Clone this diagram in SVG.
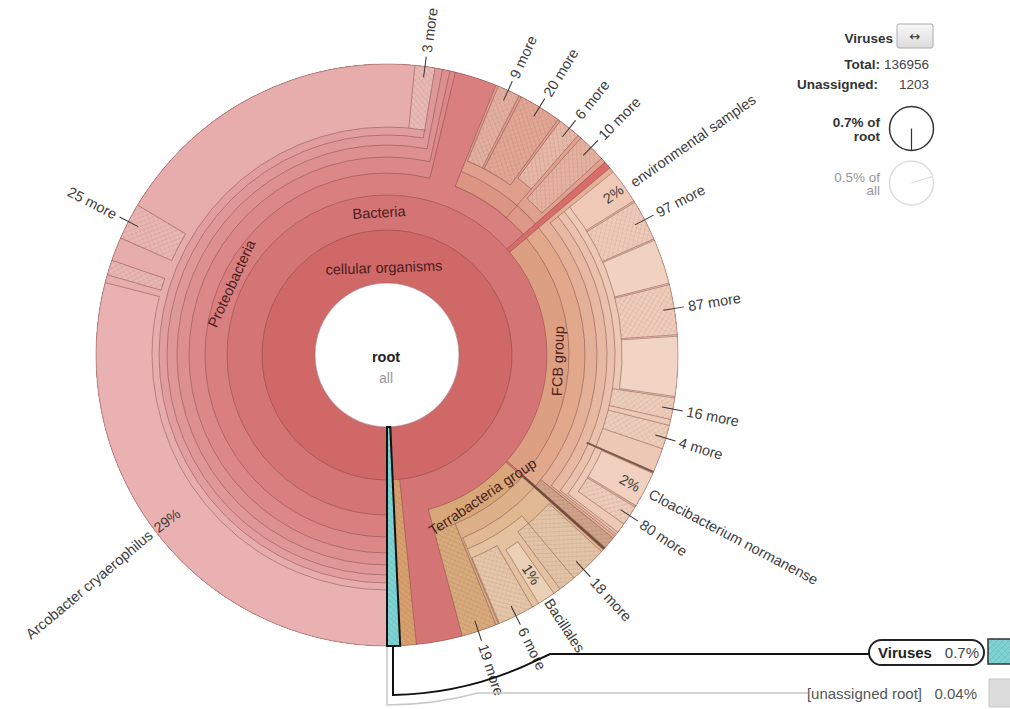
<svg xmlns="http://www.w3.org/2000/svg" xmlns:xlink="http://www.w3.org/1999/xlink" width="1010" height="709" viewBox="0 0 1010 709">
<defs>
<pattern id="hatch" width="6" height="6" patternUnits="userSpaceOnUse">
<path d="M0,6 L6,0 M-1.5,1.5 L1.5,-1.5 M4.5,7.5 L7.5,4.5" stroke="#000" stroke-opacity=".13" stroke-width=".7" fill="none"/>
<path d="M0,0 L6,6 M-1.5,4.5 L1.5,7.5 M4.5,-1.5 L7.5,1.5" stroke="#000" stroke-opacity=".07" stroke-width=".7" fill="none"/>
</pattern>
<linearGradient id="btn" x1="0" y1="0" x2="0" y2="1"><stop offset="0" stop-color="#f8f8f8"/><stop offset="1" stop-color="#dcdcdc"/></linearGradient>
<line id="q125" x1="387" y1="230" x2="387" y2="64"/>
<line id="q160" x1="387" y1="195" x2="387" y2="64"/>
<line id="q182" x1="387" y1="173" x2="387" y2="64"/>
<line id="q198" x1="387" y1="157" x2="387" y2="64"/>
<line id="q210" x1="387" y1="145" x2="387" y2="64"/>
<line id="q220" x1="387" y1="135" x2="387" y2="64"/>
<line id="q228" x1="387" y1="127" x2="387" y2="64"/>
<line id="q235" x1="387" y1="120" x2="387" y2="64"/>
</defs>
<style>
circle.s{fill:none}
.b{fill:none;stroke:#6e3a3a;stroke-opacity:.45;stroke-width:.9}
.o{font-family:"Liberation Sans",Arial,sans-serif;font-size:14.5px;fill:#3c3c3c}
.i{font-family:"Liberation Sans",Arial,sans-serif;font-size:14.5px;fill:#4a1c1c;text-anchor:middle}
.tk{stroke:#333;stroke-width:1}
.lg{font-family:"Liberation Sans",Arial,sans-serif;font-size:13.5px;text-anchor:end}
.k{font-family:"Liberation Sans",Arial,sans-serif;font-size:15px}
</style>
<rect width="1010" height="709" fill="#fff"/>

<g id="n-cellular-organisms">
<circle class="s" cx="387" cy="355" r="181.5" stroke="#d06868" stroke-width="219" stroke-dasharray="1132.16 3000" transform="rotate(90 387 355)"/>
</g>
<g id="n-bacteria">
<circle class="s" cx="387" cy="355" r="208" stroke="#d57474" stroke-width="166" stroke-dasharray="1285.85 3000" transform="rotate(90 387 355)"/>
</g>
<g id="n-archaea">
<circle class="s" cx="387" cy="355" r="208" stroke="#d9a06e" stroke-width="166" stroke-dasharray="11.62 3000" transform="rotate(84.2 387 355)"/>
<circle class="s" cx="387" cy="355" r="208" stroke="url(#hatch)" stroke-width="166" stroke-dasharray="11.62 3000" transform="rotate(84.2 387 355)"/>
</g>
<g id="n-proteobacteria">
<circle class="s" cx="387" cy="355" r="225.5" stroke="#d97f7f" stroke-width="131" stroke-dasharray="899.31 3000" transform="rotate(90 387 355)"/>
<circle class="s" cx="387" cy="355" r="236.5" stroke="#dc8888" stroke-width="109" stroke-dasharray="799.12 3000" transform="rotate(90 387 355)"/>
<circle class="s" cx="387" cy="355" r="244.5" stroke="#de9090" stroke-width="93" stroke-dasharray="821.46 3000" transform="rotate(90 387 355)"/>
<circle class="s" cx="387" cy="355" r="250.5" stroke="#e09797" stroke-width="81" stroke-dasharray="835.06 3000" transform="rotate(90 387 355)"/>
<circle class="s" cx="387" cy="355" r="255.5" stroke="#e29e9e" stroke-width="71" stroke-dasharray="845.04 3000" transform="rotate(90 387 355)"/>
<circle class="s" cx="387" cy="355" r="259.5" stroke="#e7adad" stroke-width="63" stroke-dasharray="840.15 3000" transform="rotate(90 387 355)"/>
<circle class="s" cx="387" cy="355" r="259.5" stroke="#e9b9b4" stroke-width="63" stroke-dasharray="18.12 3000" transform="rotate(275.5 387 355)"/>
<circle class="s" cx="387" cy="355" r="259.5" stroke="url(#hatch)" stroke-width="63" stroke-dasharray="18.12 3000" transform="rotate(275.5 387 355)"/>
<circle class="s" cx="387" cy="355" r="263" stroke="#e9b1b1" stroke-width="56" stroke-dasharray="479.22 3000" transform="rotate(90 387 355)"/>
<circle class="s" cx="387" cy="355" r="263" stroke="#eab6b2" stroke-width="56" stroke-dasharray="13.77 3000" transform="rotate(196 387 355)"/>
<circle class="s" cx="387" cy="355" r="263" stroke="url(#hatch)" stroke-width="56" stroke-dasharray="13.77 3000" transform="rotate(196 387 355)"/>
<circle class="s" cx="387" cy="355" r="263" stroke="#eab6b2" stroke-width="56" stroke-dasharray="33.51 3000" transform="rotate(203.7 387 355)"/>
<circle class="s" cx="387" cy="355" r="263" stroke="url(#hatch)" stroke-width="56" stroke-dasharray="33.51 3000" transform="rotate(203.7 387 355)"/>
</g>
<g id="n-gamma-beta">
<circle class="s" cx="387" cy="355" r="236.5" stroke="#dd9583" stroke-width="109" stroke-dasharray="78.43 3000" transform="rotate(-68 387 355)"/>
<circle class="s" cx="387" cy="355" r="236.5" stroke="#de9986" stroke-width="109" stroke-dasharray="30.96 3000" transform="rotate(-49 387 355)"/>
<circle class="s" cx="387" cy="355" r="244.5" stroke="#e09e8d" stroke-width="93" stroke-dasharray="81.08 3000" transform="rotate(-68 387 355)"/>
<circle class="s" cx="387" cy="355" r="244.5" stroke="#e1a18f" stroke-width="93" stroke-dasharray="32 3000" transform="rotate(-49 387 355)"/>
<circle class="s" cx="387" cy="355" r="250.5" stroke="#e4ae9f" stroke-width="81" stroke-dasharray="19.67 3000" transform="rotate(-67.5 387 355)"/>
<circle class="s" cx="387" cy="355" r="250.5" stroke="url(#hatch)" stroke-width="81" stroke-dasharray="19.67 3000" transform="rotate(-67.5 387 355)"/>
<circle class="s" cx="387" cy="355" r="250.5" stroke="#e2a694" stroke-width="81" stroke-dasharray="37.16 3000" transform="rotate(-62.5 387 355)"/>
<circle class="s" cx="387" cy="355" r="250.5" stroke="url(#hatch)" stroke-width="81" stroke-dasharray="37.16 3000" transform="rotate(-62.5 387 355)"/>
<circle class="s" cx="387" cy="355" r="250.5" stroke="#e6b1a0" stroke-width="81" stroke-dasharray="24.92 3000" transform="rotate(-48.2 387 355)"/>
<circle class="s" cx="387" cy="355" r="250.5" stroke="url(#hatch)" stroke-width="81" stroke-dasharray="24.92 3000" transform="rotate(-48.2 387 355)"/>
<circle class="s" cx="387" cy="355" r="255.5" stroke="#e7b8a8" stroke-width="71" stroke-dasharray="20.07 3000" transform="rotate(-53.5 387 355)"/>
<circle class="s" cx="387" cy="355" r="255.5" stroke="url(#hatch)" stroke-width="71" stroke-dasharray="20.07 3000" transform="rotate(-53.5 387 355)"/>
</g>
<g id="n-environmental-samples">
<circle class="s" cx="387" cy="355" r="225.5" stroke="#d76c68" stroke-width="131" stroke-dasharray="5.9 3000" transform="rotate(318.5 387 355)"/>
</g>
<g id="n-fcb-group">
<circle class="s" cx="387" cy="355" r="225.5" stroke="#dd9f82" stroke-width="131" stroke-dasharray="320.37 3000" transform="rotate(-40 387 355)"/>
<circle class="s" cx="387" cy="355" r="236.5" stroke="#e1a88c" stroke-width="109" stroke-dasharray="336 3000" transform="rotate(-40 387 355)"/>
<circle class="s" cx="387" cy="355" r="244.5" stroke="#e4b097" stroke-width="93" stroke-dasharray="337.12 3000" transform="rotate(-40 387 355)"/>
<circle class="s" cx="387" cy="355" r="244.5" stroke="#cfa389" stroke-width="93" stroke-dasharray="10.24 3000" transform="rotate(39 387 355)"/>
<circle class="s" cx="387" cy="355" r="244.5" stroke="url(#hatch)" stroke-width="93" stroke-dasharray="10.24 3000" transform="rotate(39 387 355)"/>
<circle class="s" cx="387" cy="355" r="250.5" stroke="#e7b9a2" stroke-width="81" stroke-dasharray="338.83 3000" transform="rotate(-39 387 355)"/>
<circle class="s" cx="387" cy="355" r="255.5" stroke="#eac1ac" stroke-width="71" stroke-dasharray="343.37 3000" transform="rotate(-39 387 355)"/>
<circle class="s" cx="387" cy="355" r="259.5" stroke="#edc8b5" stroke-width="63" stroke-dasharray="346.48 3000" transform="rotate(-39 387 355)"/>
<circle class="s" cx="387" cy="355" r="259.5" stroke="#efcdbb" stroke-width="63" stroke-dasharray="19.48 3000" transform="rotate(8.5 387 355)"/>
<circle class="s" cx="387" cy="355" r="259.5" stroke="url(#hatch)" stroke-width="63" stroke-dasharray="19.48 3000" transform="rotate(8.5 387 355)"/>
<circle class="s" cx="387" cy="355" r="259.5" stroke="#efcdbb" stroke-width="63" stroke-dasharray="21.74 3000" transform="rotate(14 387 355)"/>
<circle class="s" cx="387" cy="355" r="259.5" stroke="url(#hatch)" stroke-width="63" stroke-dasharray="21.74 3000" transform="rotate(14 387 355)"/>
<circle class="s" cx="387" cy="355" r="263" stroke="#efc9b6" stroke-width="56" stroke-dasharray="32.13 3000" transform="rotate(-39 387 355)"/>
<circle class="s" cx="387" cy="355" r="263" stroke="#efcab8" stroke-width="56" stroke-dasharray="37.64 3000" transform="rotate(-31.7 387 355)"/>
<circle class="s" cx="387" cy="355" r="263" stroke="url(#hatch)" stroke-width="56" stroke-dasharray="37.64 3000" transform="rotate(-31.7 387 355)"/>
<circle class="s" cx="387" cy="355" r="263" stroke="#f1d1c0" stroke-width="56" stroke-dasharray="40.85 3000" transform="rotate(-23.2 387 355)"/>
<circle class="s" cx="387" cy="355" r="263" stroke="#f0ccba" stroke-width="56" stroke-dasharray="45.9 3000" transform="rotate(-14 387 355)"/>
<circle class="s" cx="387" cy="355" r="263" stroke="url(#hatch)" stroke-width="56" stroke-dasharray="45.9 3000" transform="rotate(-14 387 355)"/>
<circle class="s" cx="387" cy="355" r="263" stroke="#f2d4c4" stroke-width="56" stroke-dasharray="54.62 3000" transform="rotate(-3.7 387 355)"/>
<circle class="s" cx="387" cy="355" r="263" stroke="#f1d0bf" stroke-width="56" stroke-dasharray="33.05 3000" transform="rotate(24 387 355)"/>
<circle class="s" cx="387" cy="355" r="263" stroke="#efcbb9" stroke-width="56" stroke-dasharray="18.36 3000" transform="rotate(31.5 387 355)"/>
<circle class="s" cx="387" cy="355" r="263" stroke="url(#hatch)" stroke-width="56" stroke-dasharray="18.36 3000" transform="rotate(31.5 387 355)"/>
</g>
<g id="n-terrabacteria-group">
<circle class="s" cx="387" cy="355" r="225.5" stroke="#d8a777" stroke-width="131" stroke-dasharray="129.88 3000" transform="rotate(42 387 355)"/>
<circle class="s" cx="387" cy="355" r="236.5" stroke="#dcb088" stroke-width="109" stroke-dasharray="107.32 3000" transform="rotate(42 387 355)"/>
<circle class="s" cx="387" cy="355" r="236.5" stroke="#d9aa7c" stroke-width="109" stroke-dasharray="28.89 3000" transform="rotate(68 387 355)"/>
<circle class="s" cx="387" cy="355" r="236.5" stroke="url(#hatch)" stroke-width="109" stroke-dasharray="28.89 3000" transform="rotate(68 387 355)"/>
<circle class="s" cx="387" cy="355" r="244.5" stroke="#e0b993" stroke-width="93" stroke-dasharray="108.82 3000" transform="rotate(42 387 355)"/>
<circle class="s" cx="387" cy="355" r="250.5" stroke="#e4c29f" stroke-width="81" stroke-dasharray="76.51 3000" transform="rotate(50 387 355)"/>
<circle class="s" cx="387" cy="355" r="255.5" stroke="#e4c4a6" stroke-width="71" stroke-dasharray="49.05 3000" transform="rotate(42.5 387 355)"/>
<circle class="s" cx="387" cy="355" r="255.5" stroke="url(#hatch)" stroke-width="71" stroke-dasharray="49.05 3000" transform="rotate(42.5 387 355)"/>
<circle class="s" cx="387" cy="355" r="255.5" stroke="#e6c6a8" stroke-width="71" stroke-dasharray="32.55 3000" transform="rotate(60 387 355)"/>
<circle class="s" cx="387" cy="355" r="255.5" stroke="url(#hatch)" stroke-width="71" stroke-dasharray="32.55 3000" transform="rotate(60 387 355)"/>
<circle class="s" cx="387" cy="355" r="259.5" stroke="#ead0b5" stroke-width="63" stroke-dasharray="16.3 3000" transform="rotate(55 387 355)"/>
</g>

<g id="borders" class="b">
<circle cx="387" cy="355" r="125"/>
<circle cx="387" cy="355" r="291"/>
<circle cx="387" cy="355" r="160" stroke-dasharray="963.42 3000" transform="rotate(90 387 355)"/>
<circle cx="387" cy="355" r="182" stroke-dasharray="614.97 3000" transform="rotate(90 387 355)"/>
<circle cx="387" cy="355" r="182" stroke-dasharray="84.18 3000" transform="rotate(-68 387 355)"/>
<circle cx="387" cy="355" r="182" stroke-dasharray="365.3 3000" transform="rotate(-40 387 355)"/>
<circle cx="387" cy="355" r="198" stroke-dasharray="665.23 3000" transform="rotate(90 387 355)"/>
<circle cx="387" cy="355" r="198" stroke-dasharray="91.58 3000" transform="rotate(-68 387 355)"/>
<circle cx="387" cy="355" r="198" stroke-dasharray="281.3 3000" transform="rotate(-40 387 355)"/>
<circle cx="387" cy="355" r="198" stroke-dasharray="88.12 3000" transform="rotate(42 387 355)"/>
<circle cx="387" cy="355" r="210" stroke-dasharray="700.05 3000" transform="rotate(90 387 355)"/>
<circle cx="387" cy="355" r="210" stroke-dasharray="49.48 3000" transform="rotate(-67.5 387 355)"/>
<circle cx="387" cy="355" r="210" stroke-dasharray="20.89 3000" transform="rotate(-48.2 387 355)"/>
<circle cx="387" cy="355" r="210" stroke-dasharray="284.05 3000" transform="rotate(-39 387 355)"/>
<circle cx="387" cy="355" r="210" stroke-dasharray="64.14 3000" transform="rotate(50 387 355)"/>
<circle cx="387" cy="355" r="220" stroke-dasharray="727.63 3000" transform="rotate(90 387 355)"/>
<circle cx="387" cy="355" r="220" stroke-dasharray="17.28 3000" transform="rotate(-53.5 387 355)"/>
<circle cx="387" cy="355" r="220" stroke-dasharray="295.66 3000" transform="rotate(-39 387 355)"/>
<circle cx="387" cy="355" r="220" stroke-dasharray="42.24 3000" transform="rotate(42.5 387 355)"/>
<circle cx="387" cy="355" r="220" stroke-dasharray="28.03 3000" transform="rotate(60 387 355)"/>
<circle cx="387" cy="355" r="228" stroke-dasharray="754.09 3000" transform="rotate(90 387 355)"/>
<circle cx="387" cy="355" r="228" stroke-dasharray="304.42 3000" transform="rotate(-39 387 355)"/>
<circle cx="387" cy="355" r="228" stroke-dasharray="14.33 3000" transform="rotate(55 387 355)"/>
<circle cx="387" cy="355" r="235" stroke-dasharray="428.2 3000" transform="rotate(90 387 355)"/>
<circle cx="387" cy="355" r="235" stroke-dasharray="12.3 3000" transform="rotate(196 387 355)"/>
<circle cx="387" cy="355" r="235" stroke-dasharray="29.94 3000" transform="rotate(203.7 387 355)"/>
<circle cx="387" cy="355" r="235" stroke-dasharray="193.59 3000" transform="rotate(-39 387 355)"/>
<circle cx="387" cy="355" r="235" stroke-dasharray="47.17 3000" transform="rotate(24 387 355)"/>
<use xlink:href="#q125" transform="rotate(174.2 387 355)"/>
<use xlink:href="#q160" transform="rotate(48.5 387 355)"/>
<use xlink:href="#q160" transform="rotate(50 387 355)"/>
<use xlink:href="#q160" transform="rotate(131.4 387 355)"/>
<use xlink:href="#q160" transform="rotate(132 387 355)"/>
<use xlink:href="#q160" transform="rotate(165 387 355)"/>
<use xlink:href="#q182" transform="rotate(13.6 387 355)"/>
<use xlink:href="#q182" transform="rotate(22 387 355)"/>
<use xlink:href="#q182" transform="rotate(41 387 355)"/>
<use xlink:href="#q182" transform="rotate(158 387 355)"/>
<use xlink:href="#q198" transform="rotate(12.5 387 355)"/>
<use xlink:href="#q198" transform="rotate(129 387 355)"/>
<use xlink:href="#q198" transform="rotate(157.5 387 355)"/>
<use xlink:href="#q210" transform="rotate(11 387 355)"/>
<use xlink:href="#q210" transform="rotate(22.5 387 355)"/>
<use xlink:href="#q210" transform="rotate(27 387 355)"/>
<use xlink:href="#q210" transform="rotate(27.5 387 355)"/>
<use xlink:href="#q210" transform="rotate(36 387 355)"/>
<use xlink:href="#q210" transform="rotate(41.8 387 355)"/>
<use xlink:href="#q210" transform="rotate(47.5 387 355)"/>
<use xlink:href="#q210" transform="rotate(51 387 355)"/>
<use xlink:href="#q210" transform="rotate(128.5 387 355)"/>
<use xlink:href="#q210" transform="rotate(140 387 355)"/>
<use xlink:href="#q220" transform="rotate(9.5 387 355)"/>
<use xlink:href="#q220" transform="rotate(36.5 387 355)"/>
<use xlink:href="#q220" transform="rotate(128 387 355)"/>
<use xlink:href="#q220" transform="rotate(132.5 387 355)"/>
<use xlink:href="#q220" transform="rotate(143.5 387 355)"/>
<use xlink:href="#q220" transform="rotate(150 387 355)"/>
<use xlink:href="#q220" transform="rotate(157.3 387 355)"/>
<use xlink:href="#q228" transform="rotate(5.5 387 355)"/>
<use xlink:href="#q228" transform="rotate(127.5 387 355)"/>
<use xlink:href="#q228" transform="rotate(98.5 387 355)"/>
<use xlink:href="#q228" transform="rotate(102.8 387 355)"/>
<use xlink:href="#q228" transform="rotate(104 387 355)"/>
<use xlink:href="#q228" transform="rotate(108.8 387 355)"/>
<use xlink:href="#q228" transform="rotate(145 387 355)"/>
<use xlink:href="#q228" transform="rotate(148.6 387 355)"/>
<use xlink:href="#q235" transform="rotate(284.4 387 355)"/>
<use xlink:href="#q235" transform="rotate(286 387 355)"/>
<use xlink:href="#q235" transform="rotate(289 387 355)"/>
<use xlink:href="#q235" transform="rotate(293.7 387 355)"/>
<use xlink:href="#q235" transform="rotate(301 387 355)"/>
<use xlink:href="#q235" transform="rotate(58 387 355)"/>
<use xlink:href="#q235" transform="rotate(58.3 387 355)"/>
<use xlink:href="#q235" transform="rotate(66.5 387 355)"/>
<use xlink:href="#q235" transform="rotate(66.8 387 355)"/>
<use xlink:href="#q235" transform="rotate(75.7 387 355)"/>
<use xlink:href="#q235" transform="rotate(76 387 355)"/>
<use xlink:href="#q235" transform="rotate(86 387 355)"/>
<use xlink:href="#q235" transform="rotate(86.3 387 355)"/>
<use xlink:href="#q235" transform="rotate(98.2 387 355)"/>
<use xlink:href="#q235" transform="rotate(114 387 355)"/>
<use xlink:href="#q235" transform="rotate(121.2 387 355)"/>
<use xlink:href="#q235" transform="rotate(121.5 387 355)"/>
<use xlink:href="#q235" transform="rotate(125.5 387 355)"/>
</g>
<line x1="387" y1="137" x2="387" y2="64" stroke="#7d5b4b" stroke-width="2" transform="rotate(113.7 387 355)"/>
<line x1="387" y1="173" x2="387" y2="64" stroke="#6f4c3c" stroke-width="2.2" transform="rotate(131.7 387 355)"/>

<g id="n-root">
<circle cx="387" cy="355" r="72" fill="#fff" stroke="#8a5050" stroke-opacity=".6" stroke-width=".9"/>
<text x="386" y="362" font-family="Liberation Sans, Arial, sans-serif" font-size="14.5" font-weight="bold" fill="#222" text-anchor="middle">root</text>
<text x="386" y="383" font-family="Liberation Sans, Arial, sans-serif" font-size="14" fill="#9a9a9a" text-anchor="middle">all</text>
</g>

<g id="n-viruses">
<circle class="s" cx="387" cy="355" r="181.5" stroke="#7fd3d3" stroke-width="219" stroke-dasharray="8.24 3000" transform="rotate(87.4 387 355)"/>
<circle class="s" cx="387" cy="355" r="181.5" stroke="url(#hatch)" stroke-width="219" stroke-dasharray="8.24 3000" transform="rotate(87.4 387 355)"/>
<path d="M387,427 L387,646 A291,291 0 0 0 400.2,645.7 L390.27,426.93 A72,72 0 0 1 387,427 Z" fill="none" stroke="#111" stroke-width="2"/>
</g>

<g id="inner-labels">
<text class="i" x="387" y="267.5" dy=".35em" transform="rotate(-2 387 355)">cellular organisms</text>
<text class="i" x="387" y="212.3" dy=".35em" transform="rotate(-3.2 387 355)">Bacteria</text>
<text class="i" x="387" y="184" dy=".35em" transform="rotate(-65.3 387 355)">Proteobacteria</text>
<text class="i" x="387" y="526" dy=".35em" transform="rotate(-88 387 355)">FCB group</text>
<text class="i" x="387" y="526" dy=".35em" transform="rotate(-34 387 355)">Terrabacteria group</text>
</g>

<g id="outer-labels">
<line class="tk" x1="667" y1="355" x2="688" y2="355" transform="rotate(-82.5 387 355)"/>
<text class="o" x="692" y="355" dy=".35em" transform="rotate(-82.5 387 355)">3 more</text>
<line class="tk" x1="667" y1="355" x2="688" y2="355" transform="rotate(-65.4 387 355)"/>
<text class="o" x="692" y="355" dy=".35em" transform="rotate(-65.4 387 355)">9 more</text>
<line class="tk" x1="667" y1="355" x2="688" y2="355" transform="rotate(-58.4 387 355)"/>
<text class="o" x="692" y="355" dy=".35em" transform="rotate(-58.4 387 355)">20 more</text>
<line class="tk" x1="667" y1="355" x2="688" y2="355" transform="rotate(-51.2 387 355)"/>
<text class="o" x="692" y="355" dy=".35em" transform="rotate(-51.2 387 355)">6 more</text>
<line class="tk" x1="667" y1="355" x2="688" y2="355" transform="rotate(-45.5 387 355)"/>
<text class="o" x="692" y="355" dy=".35em" transform="rotate(-45.5 387 355)">10 more</text>
<text class="o" x="686" y="355" dy=".35em" transform="rotate(-35 387 355)">environmental samples</text>
<text class="o" x="675" y="355" dy=".35em" text-anchor="end" transform="rotate(-35.4 387 355)">2%</text>
<line class="tk" x1="667" y1="355" x2="688" y2="355" transform="rotate(-27.7 387 355)"/>
<text class="o" x="692" y="355" dy=".35em" transform="rotate(-27.7 387 355)">97 more</text>
<line class="tk" x1="667" y1="355" x2="688" y2="355" transform="rotate(-9.2 387 355)"/>
<text class="o" x="692" y="355" dy=".35em" transform="rotate(-9.2 387 355)">87 more</text>
<line class="tk" x1="667" y1="355" x2="688" y2="355" transform="rotate(10.7 387 355)"/>
<text class="o" x="692" y="355" dy=".35em" transform="rotate(10.7 387 355)">16 more</text>
<line class="tk" x1="667" y1="355" x2="688" y2="355" transform="rotate(16.6 387 355)"/>
<text class="o" x="692" y="355" dy=".35em" transform="rotate(16.6 387 355)">4 more</text>
<text class="o" x="672" y="355" dy=".35em" text-anchor="end" transform="rotate(27.8 387 355)">2%</text>
<text class="o" x="684" y="355" dy=".35em" transform="rotate(27.7 387 355)">Cloacibacterium normanense</text>
<line class="tk" x1="667" y1="355" x2="688" y2="355" transform="rotate(33.5 387 355)"/>
<text class="o" x="692" y="355" dy=".35em" transform="rotate(33.5 387 355)">80 more</text>
<line class="tk" x1="667" y1="355" x2="688" y2="355" transform="rotate(47.5 387 355)"/>
<text class="o" x="692" y="355" dy=".35em" transform="rotate(47.5 387 355)">18 more</text>
<text class="o" x="660" y="355" dy=".35em" text-anchor="end" transform="rotate(56.7 387 355)">1%</text>
<text class="o" x="680" y="355" dy=".35em" transform="rotate(56.7 387 355)">Bacillales</text>
<line class="tk" x1="667" y1="355" x2="688" y2="355" transform="rotate(63.7 387 355)"/>
<text class="o" x="692" y="355" dy=".35em" transform="rotate(63.7 387 355)">6 more</text>
<line class="tk" x1="667" y1="355" x2="688" y2="355" transform="rotate(71.7 387 355)"/>
<text class="o" x="692" y="355" dy=".35em" transform="rotate(71.7 387 355)">19 more</text>
<line class="tk" x1="86" y1="355" x2="107" y2="355" transform="rotate(27.3 387 355)"/>
<text class="o" x="82" y="355" dy=".35em" text-anchor="end" transform="rotate(27.3 387 355)">25 more</text>
<text class="o" x="0" y="0" dy=".35em" text-anchor="end" font-size="16" transform="translate(150.6 533.1) rotate(-40)">Arcobacter cryaerophilus</text>
<text class="o" x="97" y="355" dy=".35em" transform="rotate(-37 387 355)">29%</text>
</g>

<g id="connectors" fill="none">
<path d="M387,647 L387,705 A350,350 0 0 0 478,693 L808,693" stroke="#c8c8c8" stroke-width="1.5"/>
<path d="M393,647 L393,695 A340,340 0 0 0 536,660.6 L550,654 L870,654" stroke="#111" stroke-width="2"/>
</g>

<g id="key-viruses">
<rect x="869" y="640" width="115" height="25" rx="12.5" fill="#fff" stroke="#222" stroke-width="2"/>
<text class="k" x="878" y="657.5" font-weight="bold" fill="#222">Viruses</text>
<text class="k" x="979" y="657.5" text-anchor="end" fill="#444">0.7%</text>
<rect x="988" y="639" width="30" height="25" fill="#7fd3d3" stroke="#333" stroke-width="1.5"/>
<rect x="988" y="639" width="30" height="25" fill="url(#hatch)"/>
</g>
<g id="key-unassigned">
<text class="k" x="922" y="699" text-anchor="end" fill="#555">[unassigned root]</text>
<text class="k" x="977" y="699" text-anchor="end" fill="#555">0.04%</text>
<rect x="989" y="679" width="30" height="28" fill="#dcdcdc" stroke="#c8c8c8"/>
</g>

<g id="legend">
<text class="lg" x="893" y="43" font-weight="bold" fill="#333">Viruses</text>
<rect x="897" y="24" width="36" height="24" rx="2" fill="url(#btn)" stroke="#aaa"/>
<text x="915" y="41" font-family="DejaVu Sans, sans-serif" font-size="13" fill="#333" text-anchor="middle">↔</text>
<text class="lg" x="880" y="69" font-weight="bold" fill="#333">Total:</text>
<text class="lg" x="929" y="69" fill="#444">136956</text>
<text class="lg" x="878" y="89" font-weight="bold" fill="#333">Unassigned:</text>
<text class="lg" x="929" y="89" fill="#444">1203</text>
<text class="lg" x="880" y="127" font-weight="bold" fill="#333">0.7% of</text>
<text class="lg" x="880" y="141" font-weight="bold" fill="#333">root</text>
<circle cx="911.5" cy="128.5" r="22" fill="#fff" stroke="#333" stroke-width="1.5"/>
<line x1="911.5" y1="128.5" x2="911.5" y2="150.5" stroke="#333" stroke-width="1.2"/>
<text class="lg" x="880" y="182" fill="#999">0.5% of</text>
<text class="lg" x="880" y="195" fill="#999">all</text>
<circle cx="911.5" cy="183" r="22" fill="#fff" stroke="#ddd" stroke-width="1.5"/>
<line x1="911.5" y1="183" x2="932" y2="176.5" stroke="#ddd" stroke-width="1.2"/>
</g>
</svg>
